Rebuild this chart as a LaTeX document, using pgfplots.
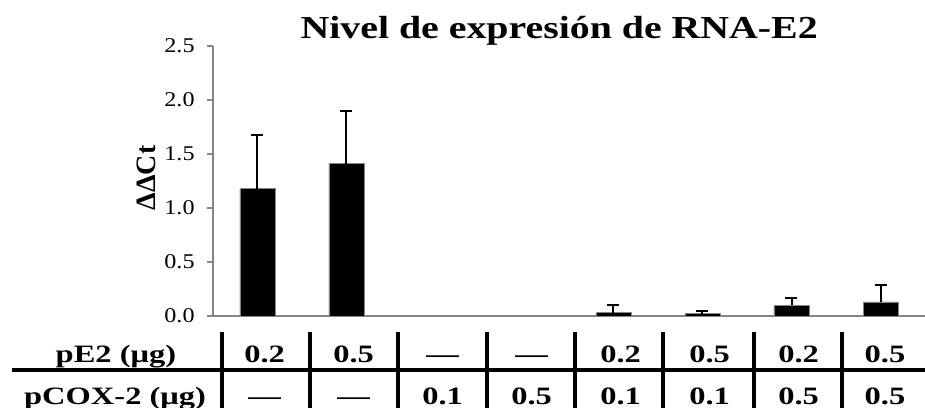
\documentclass[border=0pt]{standalone}
\usepackage{fontspec}
\setmainfont{Liberation Serif}
\usepackage{graphicx}
\usepackage{pgfplots}
\pgfplotsset{compat=1.18}
\definecolor{axgray}{RGB}{134,134,134}

% groups 3 and 4 (pCOX-2 alone) are 0 and not drawn
\pgfplotstableread{
x y err
1 1.18 0.50
2 1.41 0.49
5 0.03 0.07
6 0.02 0.03
7 0.10 0.07
8 0.13 0.16
}\rnadata

\newcommand{\tb}[1]{\scalebox{1.3}[1]{\fontsize{12.5}{14}\selectfont\bfseries #1}}

\begin{document}
\begin{tikzpicture}
\begin{axis}[
  x=44.5pt, y=54pt,
  xmin=0.5, xmax=8.5, ymin=0, ymax=2.5,
  axis lines*=left,
  axis line style={axgray, line width=0.75pt},
  xtick=\empty,
  ytick={0,0.5,1,1.5,2,2.5},
  tick align=outside,
  major tick length=3pt,
  tick style={axgray, line width=0.75pt},
  /pgf/number format/assume math mode=true,
  yticklabel={\scalebox{1.15}[1]{\fontsize{10.5}{12}\selectfont\pgfmathprintnumber[fixed,fixed zerofill,precision=1]{\tick}}},
  yticklabel style={inner sep=0pt, xshift=-6pt},
  ybar, bar width=17.5pt,
  clip=false,
]
\addplot[fill=black, draw=axgray, line width=0.4pt,
  error bars/.cd, y dir=plus, y explicit,
  error bar style={black, line width=1pt},
  error mark options={black, line width=1pt, mark size=3pt, rotate=90}]
  table[x=x, y=y, y error=err]{\rnadata};

% title and y label
\node[anchor=base] at (axis cs:4.39,2.574)
  {\scalebox{1.245}[1]{\fontsize{16}{19}\selectfont\bfseries Nivel de expresión de RNA-E2}};
\node[rotate=90] at (axis cs:-0.253,1.278) {\fontsize{14}{16}\selectfont\bfseries ΔΔCt};

% table under the axis
\draw[black, line width=2pt] (axis cs:-1.76,-0.5) -- (axis cs:8.5,-0.5);
\pgfplotsinvokeforeach{0.60,1.59,2.58,3.58,4.57,5.56,6.58,7.57}{
  \draw[black, line width=2pt] (axis cs:#1,-0.148) -- (axis cs:#1,-0.85);
}

\node[anchor=base] at (axis cs:-0.59,-0.435) {\tb{pE2 (μg)}};
\node[anchor=base] at (axis cs:-0.60,-0.815) {\tb{pCOX-2 (μg)}};

\node[anchor=base] at (axis cs:1.08,-0.435) {\tb{0.2}};
\node[anchor=base] at (axis cs:2.08,-0.435) {\tb{0.5}};
\node[anchor=base] at (axis cs:3.08,-0.435) {\tb{—}};
\node[anchor=base] at (axis cs:4.08,-0.435) {\tb{—}};
\node[anchor=base] at (axis cs:5.08,-0.435) {\tb{0.2}};
\node[anchor=base] at (axis cs:6.08,-0.435) {\tb{0.5}};
\node[anchor=base] at (axis cs:7.08,-0.435) {\tb{0.2}};
\node[anchor=base] at (axis cs:8.05,-0.435) {\tb{0.5}};

\node[anchor=base] at (axis cs:1.08,-0.815) {\tb{—}};
\node[anchor=base] at (axis cs:2.08,-0.815) {\tb{—}};
\node[anchor=base] at (axis cs:3.08,-0.815) {\tb{0.1}};
\node[anchor=base] at (axis cs:4.08,-0.815) {\tb{0.5}};
\node[anchor=base] at (axis cs:5.08,-0.815) {\tb{0.1}};
\node[anchor=base] at (axis cs:6.08,-0.815) {\tb{0.1}};
\node[anchor=base] at (axis cs:7.08,-0.815) {\tb{0.5}};
\node[anchor=base] at (axis cs:8.05,-0.815) {\tb{0.5}};

\coordinate (bbtl) at (axis cs:-1.893,2.926);
\coordinate (bbbr) at (axis cs:8.5,-0.8426);
\end{axis}
\pgfresetboundingbox
\path[use as bounding box] (bbtl) rectangle (bbbr);
\end{tikzpicture}
\end{document}
